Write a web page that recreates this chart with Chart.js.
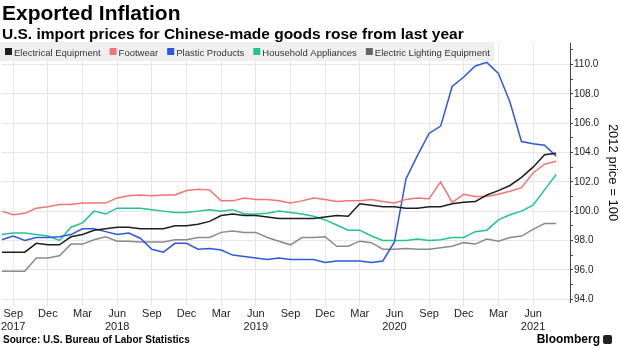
<!DOCTYPE html>
<html>
<head>
<meta charset="utf-8">
<script src="https://cdn.jsdelivr.net/npm/chart.js@4/dist/chart.umd.min.js"></script>
<style>
  body { margin: 0; background: #fff; font-family: "Liberation Sans", Arial, sans-serif; }
  #page { position: relative; width: 620px; height: 348px; overflow: hidden; }
  #wrap { position: absolute; left: 0; top: 0; width: 620px; height: 348px; }
  .txt { position: absolute; white-space: nowrap; color: #000; }
  #title { left: 2px; top: 1px; font-size: 21px; font-weight: bold; }
  #subtitle { left: 2px; top: 25px; font-size: 15.5px; font-weight: bold; }
  #source { left: 3px; top: 334px; font-size: 10px; font-weight: bold; }
  #brand { right: 8px; top: 332px; font-size: 12px; font-weight: bold; }
  #brand .logo { display: inline-block; width: 9px; height: 9px; background: #222; border-radius: 2px; margin-left: 3px; vertical-align: -1px; }
</style>
</head>
<body>
<div id="page">
  <div id="wrap"><canvas id="chart"></canvas></div>
  <div class="txt" id="title">Exported Inflation</div>
  <div class="txt" id="subtitle">U.S. import prices for Chinese-made goods rose from last year</div>
  <div class="txt" id="source">Source: U.S. Bureau of Labor Statistics</div>
  <div class="txt" id="brand">Bloomberg<span class="logo"></span></div>
</div>
<script>
// monthly index prices, 2012 = 100, Aug 2017 .. Aug 2021
const MONTHS = [
  "2017-08", "2017-09", "2017-10", "2017-11", "2017-12",
  "2018-01", "2018-02", "2018-03", "2018-04", "2018-05", "2018-06",
  "2018-07", "2018-08", "2018-09", "2018-10", "2018-11", "2018-12",
  "2019-01", "2019-02", "2019-03", "2019-04", "2019-05", "2019-06",
  "2019-07", "2019-08", "2019-09", "2019-10", "2019-11", "2019-12",
  "2020-01", "2020-02", "2020-03", "2020-04", "2020-05", "2020-06",
  "2020-07", "2020-08", "2020-09", "2020-10", "2020-11", "2020-12",
  "2021-01", "2021-02", "2021-03", "2021-04", "2021-05", "2021-06",
  "2021-07", "2021-08",
];

const ELECTRICAL = [
  97.2, 97.2, 97.2, 97.8, 97.7, 97.7, 98.25, 98.4, 98.7, 98.8,
  98.9, 98.9, 98.8, 98.8, 98.8, 99.0, 99.0, 99.1, 99.3, 99.7,
  99.8, 99.7, 99.7, 99.6, 99.5, 99.5, 99.5, 99.5, 99.6, 99.7,
  99.65, 100.5, 100.4, 100.3, 100.3, 100.2, 100.2, 100.3, 100.3, 100.5,
  100.6, 100.65, 101.1, 101.4, 101.75, 102.3, 103.0, 103.85, 103.95,
];
const FOOTWEAR = [
  100.0, 99.75, 99.85, 100.2, 100.3, 100.45, 100.45, 100.55, 100.55, 100.55,
  100.9, 101.05, 101.1, 101.05, 101.1, 101.1, 101.4, 101.5, 101.45, 100.7,
  100.7, 100.9, 100.8, 100.8, 100.7, 100.55, 100.7, 100.9, 100.8, 100.65,
  100.7, 100.7, 100.8, 100.65, 100.55, 100.8, 100.9, 100.85, 102.0, 100.6,
  101.15, 101.0, 101.0, 101.15, 101.35, 101.6, 102.6, 103.2, 103.4,
];
const PLASTIC = [
  98.05, 98.3, 98.0, 98.2, 98.2, 98.25, 98.4, 98.8, 98.8, 98.6,
  98.4, 98.5, 98.15, 97.4, 97.2, 97.8, 97.8, 97.4, 97.45, 97.35,
  97.0, 96.9, 96.8, 96.7, 96.8, 96.7, 96.7, 96.7, 96.5, 96.6,
  96.6, 96.6, 96.5, 96.6, 97.9, 102.2, 103.8, 105.3, 105.8, 108.5,
  109.15, 109.9, 110.15, 109.4, 107.45, 104.75, 104.6, 104.5, 103.75,
];
const HOUSEHOLD = [
  98.4, 98.5, 98.5, 98.4, 98.3, 98.0, 98.9, 99.2, 100.0, 99.8,
  100.2, 100.2, 100.2, 100.1, 100.0, 99.9, 99.9, 100.0, 100.1, 100.0,
  100.1, 99.8, 99.8, 99.85, 100.0, 99.9, 99.8, 99.65, 99.4, 99.05,
  98.7, 98.7, 98.3, 98.0, 98.0, 98.0, 98.1, 98.0, 98.05, 98.2,
  98.2, 98.6, 98.7, 99.4, 99.75, 100.0, 100.4, 101.45, 102.5,
];
const LIGHTING = [
  95.9, 95.9, 95.9, 96.8, 96.8, 96.95, 97.75, 97.75, 98.05, 98.25,
  97.95, 97.95, 97.9, 97.9, 97.9, 98.05, 98.05, 98.2, 98.2, 98.55,
  98.65, 98.55, 98.55, 98.2, 97.95, 97.7, 98.2, 98.2, 98.25, 97.6,
  97.6, 97.95, 97.85, 97.4, 97.4, 97.45, 97.4, 97.4, 97.5, 97.6,
  97.85, 97.75, 98.1, 97.95, 98.2, 98.3, 98.75, 99.15, 99.15,
];

const TICK_MONTHS = [
  "2017-09", "2017-12", "2018-03", "2018-06", "2018-09", "2018-12",
  "2019-03", "2019-06", "2019-09", "2019-12", "2020-03", "2020-06",
  "2020-09", "2020-12", "2021-03", "2021-06",
];
const TICK_LABELS = [
  ["Sep", "2017"], "Dec", "Mar", ["Jun", "2018"], "Sep", "Dec",
  "Mar", ["Jun", "2019"], "Sep", "Dec", "Mar", ["Jun", "2020"],
  "Sep", "Dec", "Mar", ["Jun", "2021"],
];

const FONT = '"Liberation Sans", Arial, sans-serif';
const GRID = "#e6e6e6";

const series = (label, values, color, legendColor) => ({
  label,
  data: values.map((v, i) => ({ x: i, y: v })),
  borderColor: color,
  legendColor: legendColor || color,
  borderWidth: 1.5,
  pointRadius: 0,
  tension: 0,
});

// legend drawn over the top-left of the plot on a grey strip
const legendStrip = {
  id: "legendStrip",
  afterDraw(chart) {
    const ctx = chart.ctx;
    ctx.save();
    ctx.font = "9.5px " + FONT;
    const items = chart.data.datasets.map(ds => ({
      text: ds.label, color: ds.legendColor, w: ctx.measureText(ds.label).width,
    }));
    let end = 5;
    items.forEach((it, i) => { end += 9 + it.w + (i < items.length - 1 ? 9 : 0); });
    ctx.fillStyle = "#efefef";
    ctx.fillRect(0, 42, end + 4, 19);
    let x = 5;
    ctx.textBaseline = "alphabetic";
    items.forEach(it => {
      ctx.fillStyle = it.color;
      ctx.fillRect(x, 48, 7, 7);
      ctx.fillStyle = "#333";
      ctx.fillText(it.text, x + 9, 55.5);
      x += 9 + it.w + 9;
    });
    ctx.restore();
  },
};

new Chart(document.getElementById("chart"), {
  type: "line",
  data: {
    datasets: [
      series("Electrical Equipment", ELECTRICAL, "#1e1e1e"),
      series("Footwear", FOOTWEAR, "#f27474"),
      series("Plastic Products", PLASTIC, "#2d57e0"),
      series("Household Appliances", HOUSEHOLD, "#20c393"),
      series("Electric Lighting Equipment", LIGHTING, "#8a8a8a", "#666"),
    ],
  },
  options: {
    responsive: true,
    maintainAspectRatio: false,
    animation: false,
    devicePixelRatio: 1,
    layout: { padding: { top: 43, bottom: 13, left: 0, right: 0 } },
    plugins: { legend: { display: false }, tooltip: { enabled: false } },
    scales: {
      x: {
        type: "linear",
        min: 0,
        max: 49.2,
        afterBuildTicks: s => { s.ticks = TICK_MONTHS.map(m => ({ value: MONTHS.indexOf(m) })); },
        afterFit: s => { s.height = 33; },
        grid: { color: GRID, tickColor: GRID, tickLength: 4 },
        border: { display: false },
        ticks: {
          autoSkip: false,
          maxRotation: 0,
          padding: 1,
          color: "#222",
          font: { family: FONT, size: 11, lineHeight: 1.2 },
          callback: (v, i) => TICK_LABELS[i],
        },
      },
      y: {
        position: "right",
        min: 93.8,
        max: 111.47,
        afterFit: s => { s.width = 50; },
        grid: {
          color: c => (c.tick && c.tick.value % 2 === 0 ? GRID : "rgba(0,0,0,0)"),
          tickColor: "#444",
          tickLength: 3,
        },
        border: { display: true, color: "#444", width: 1 },
        ticks: {
          stepSize: 1,
          includeBounds: false,
          autoSkip: false,
          padding: 1,
          color: "#222",
          font: { family: FONT, size: 10 },
          callback: v => (v % 2 === 0 ? v.toFixed(1) : ""),
        },
        title: {
          display: true,
          text: "2012 price = 100",
          color: "#111",
          padding: { top: 0, bottom: 0 },
          font: { family: FONT, size: 13 },
        },
      },
    },
  },
  plugins: [legendStrip],
});
</script>
</body>
</html>
